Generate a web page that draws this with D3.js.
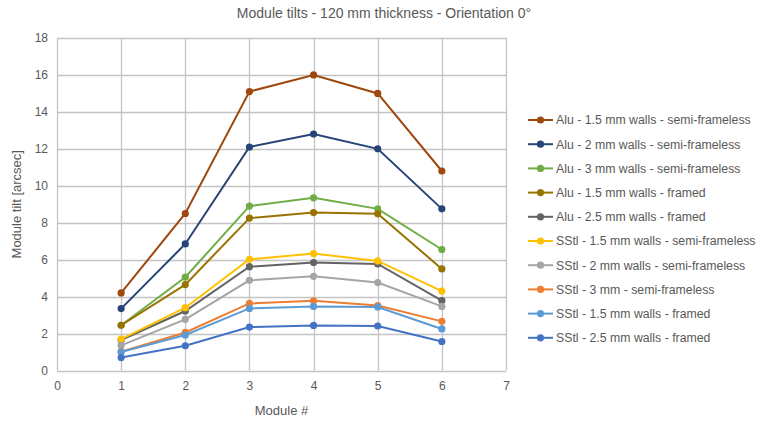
<!DOCTYPE html>
<html>
<head>
<meta charset="utf-8">
<script src="https://d3js.org/d3.v7.min.js"></script>
<style>
  body { margin: 0; background: #fff; }
  text { font-family: "Liberation Sans", "DejaVu Sans", sans-serif; fill: #595959; }
</style>
</head>
<body>
<div class="chart"></div>
<script>
const modules = [1, 2, 3, 4, 5, 6];

const seriesNames = [
  "Alu - 1.5 mm walls - semi-frameless",
  "Alu - 2 mm walls - semi-frameless",
  "Alu - 3 mm walls - semi-frameless",
  "Alu - 1.5 mm walls - framed",
  "Alu - 2.5 mm walls - framed",
  "SStl - 1.5 mm walls - semi-frameless",
  "SStl - 2 mm walls - semi-frameless",
  "SStl - 3 mm - semi-frameless",
  "SStl - 1.5 mm walls - framed",
  "SStl - 2.5 mm walls - framed"
];

const alu15Semi = [4.2, 8.5, 15.1, 16.0, 15.0, 10.8];
const alu2Semi = [3.35, 6.85, 12.1, 12.8, 12.0, 8.75];
const alu3Semi = [2.45, 5.05, 8.9, 9.35, 8.75, 6.55];
const alu15Framed = [2.45, 4.65, 8.25, 8.55, 8.48, 5.5];
const alu25Framed = [1.65, 3.22, 5.62, 5.84, 5.77, 3.78];
const sstl15Semi = [1.7, 3.4, 6.02, 6.33, 5.93, 4.3];
const sstl2Semi = [1.36, 2.77, 4.88, 5.1, 4.76, 3.47];
const sstl3Semi = [1.02, 2.06, 3.63, 3.77, 3.52, 2.66];
const sstl15Framed = [1.0, 1.92, 3.36, 3.47, 3.44, 2.25];
const sstl25Framed = [0.7, 1.34, 2.35, 2.44, 2.41, 1.57];

const seriesValues = [alu15Semi, alu2Semi, alu3Semi, alu15Framed, alu25Framed,
  sstl15Semi, sstl2Semi, sstl3Semi, sstl15Framed, sstl25Framed];

const colors = ["#9E480E", "#264478", "#70AD47", "#997300", "#636363",
  "#FFC000", "#A5A5A5", "#ED7D31", "#5B9BD5", "#4472C4"];

const xTicks = [0, 1, 2, 3, 4, 5, 6, 7];
const yTicks = [0, 2, 4, 6, 8, 10, 12, 14, 16, 18];

const width = 768, height = 421;
const svg = d3.select(".chart").append("svg")
  .attr("width", width)
  .attr("height", height);

const x = d3.scaleLinear().domain([0, 7]).range([57, 506]);
const y = d3.scaleLinear().domain([0, 18]).range([370.5, 38]);

// gridlines
const grid = svg.append("g").attr("class", "grid");
grid.selectAll(".hgrid")
  .data(yTicks)
  .enter().append("line")
  .attr("x1", x(0)).attr("x2", x(7))
  .attr("y1", d => Math.round(y(d)) + 0.5)
  .attr("y2", d => Math.round(y(d)) + 0.5)
  .attr("stroke", "#c4c4c4")
  .attr("stroke-width", 1.3);
grid.selectAll(".vgrid")
  .data(xTicks)
  .enter().append("line")
  .attr("y1", y(0)).attr("y2", y(18))
  .attr("x1", d => Math.round(x(d)) + 0.5)
  .attr("x2", d => Math.round(x(d)) + 0.5)
  .attr("stroke", "#c4c4c4")
  .attr("stroke-width", 1.3);

// axes (labels only)
const yAxis = svg.append("g")
  .attr("transform", "translate(" + (x(0) - 9) + ",0)")
  .call(d3.axisLeft(y).tickValues(yTicks).tickSize(0).tickPadding(0));
yAxis.select(".domain").remove();
yAxis.selectAll("text").attr("font-size", 12).attr("fill", "#595959")
  .attr("font-family", "Liberation Sans, sans-serif");

const xAxis = svg.append("g")
  .attr("transform", "translate(0," + (y(0) + 7) + ")")
  .call(d3.axisBottom(x).tickValues(xTicks).tickFormat(d3.format("d")).tickSize(0).tickPadding(4));
xAxis.select(".domain").remove();
xAxis.selectAll("text").attr("font-size", 12).attr("fill", "#595959")
  .attr("font-family", "Liberation Sans, sans-serif");

// titles
svg.append("text")
  .attr("x", 384).attr("y", 18)
  .attr("text-anchor", "middle")
  .attr("font-size", 14)
  .text("Module tilts - 120 mm thickness - Orientation 0°");

svg.append("text")
  .attr("x", x(3.5)).attr("y", 415)
  .attr("text-anchor", "middle")
  .attr("font-size", 13)
  .text("Module #");

svg.append("text")
  .attr("transform", "translate(21," + y(9) + ") rotate(-90)")
  .attr("text-anchor", "middle")
  .attr("font-size", 13)
  .text("Module tilt [arcsec]");

// series
const line = d3.line()
  .x((d, i) => x(modules[i]))
  .y(d => y(d));

const series = svg.append("g").attr("class", "series")
  .selectAll("g")
  .data(seriesValues)
  .enter().append("g");

series.append("path")
  .attr("d", d => line(d))
  .attr("fill", "none")
  .attr("stroke", (d, i) => colors[i])
  .attr("stroke-width", 2);

series.each(function(vals, si) {
  d3.select(this).selectAll("circle")
    .data(vals)
    .enter().append("circle")
    .attr("cx", (d, i) => x(modules[i]))
    .attr("cy", d => y(d))
    .attr("r", 3.6)
    .attr("fill", colors[si]);
});

// legend
const legend = svg.append("g").attr("class", "legend")
  .selectAll("g")
  .data(seriesNames)
  .enter().append("g")
  .attr("transform", (d, i) => "translate(528," + (120 + i * 24.2) + ")");

legend.append("line")
  .attr("x1", 0).attr("x2", 25)
  .attr("stroke", (d, i) => colors[i])
  .attr("stroke-width", 2);
legend.append("circle")
  .attr("cx", 12.5).attr("r", 3.6)
  .attr("fill", (d, i) => colors[i]);
legend.append("text")
  .attr("x", 28).attr("dy", "0.35em")
  .attr("font-size", 12.3)
  .text(d => d);
</script>
</body>
</html>
